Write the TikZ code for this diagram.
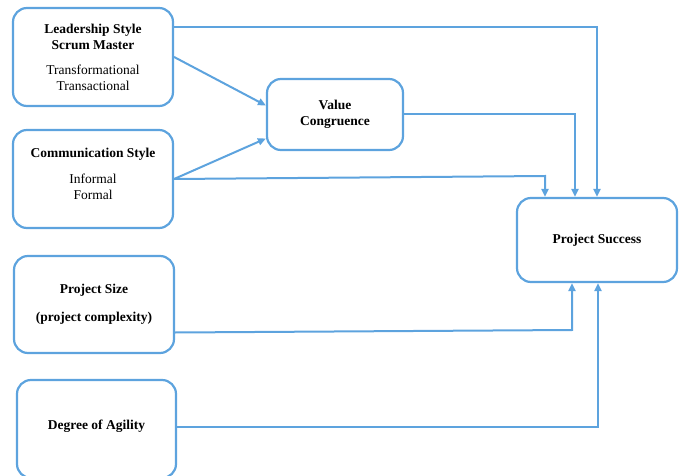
\documentclass[tikz,border=0pt]{standalone}
\usepackage{fontspec}
\setmainfont{Liberation Serif}
\usepackage{tikz}
\usetikzlibrary{arrows.meta}
\definecolor{boxblue}{RGB}{93,163,222}

\begin{document}
\begin{tikzpicture}[x=1pt,y=-1pt,
        factor/.style={draw=boxblue,line width=2.2pt,rounded corners=14pt,
            align=center,font=\fontsize{13.5}{16}\selectfont,inner sep=2pt},
        link/.style={draw=boxblue,line width=2pt,
            -{Triangle[length=8pt,width=7pt]}}]
        \useasboundingbox (0,0) rectangle (683,476);

        \node[factor,minimum width=160pt,minimum height=98pt] (lead) at (93,57)
            {\textbf{Leadership Style}\\ \textbf{Scrum Master}\\[9pt] Transformational\\ Transactional};
        \node[factor,minimum width=160pt,minimum height=98pt] (comm) at (93,179)
            {\textbf{Communication Style}\\[10pt] Informal\\ Formal\\[-6pt]\mbox{}};
        \node[factor,minimum width=160pt,minimum height=97pt] (size) at (94,304.5)
            {\textbf{Project Size}\\[12pt] \textbf{(project complexity)}};
        \node[factor,minimum width=159pt,minimum height=98pt] (agility) at (96.5,429)
            {\textbf{Degree of Agility}\\[-8pt]\mbox{}};
        \node[factor,minimum width=136pt,minimum height=71pt] (vc) at (335,114.5)
            {\textbf{Value}\\ \textbf{Congruence}};
        \node[factor,minimum width=160pt,minimum height=84pt] (ps) at (597,240)
            {\textbf{Project Success}};

        \coordinate (k1) at (545,176);
        \coordinate (k2) at (572,330);

        \draw[link] ([yshift=30pt]lead.east) -| (ps.north);
        \draw[link] (lead.east) -- ([yshift=9pt]vc.west);
        \draw[link] (comm.east) -- ([yshift=-24pt]vc.west);
        \draw[link] (comm.east) -- (k1) -- (k1 |- ps.north);
        \draw[link] (vc.east) -| ([xshift=-22pt]ps.north);
        \draw[link] ([yshift=-28pt]size.east) -- (k2) -- (k2 |- ps.south);
        \draw[link] ([yshift=2pt]agility.east) -| ([xshift=1pt]ps.south);
\end{tikzpicture}
\end{document}
